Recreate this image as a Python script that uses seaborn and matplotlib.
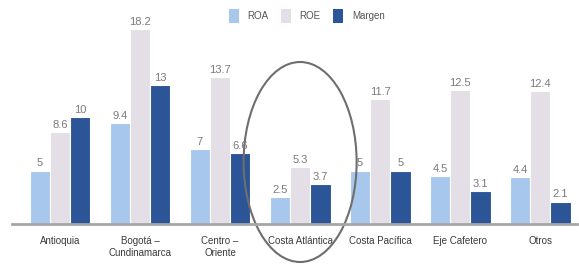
import matplotlib
matplotlib.use("Agg")
import matplotlib.pyplot as plt
import seaborn as sns
import pandas as pd
from matplotlib.patches import Ellipse, Patch

regions = ["Antioquia", "Bogotá –\nCundinamarca", "Centro –\nOriente", "Costa Atlántica",
           "Costa Pacífica", "Eje Cafetero", "Otros"]
series = ["ROA", "ROE", "Margen"]
roa = [5, 9.4, 7, 2.5, 5, 4.5, 4.4]
roe = [8.6, 18.2, 13.7, 5.3, 11.7, 12.5, 12.4]
margen = [10, 13, 6.6, 3.7, 5, 3.1, 2.1]
labels_roa = ["5", "9.4", "7", "2.5", "5", "4.5", "4.4"]
labels_roe = ["8.6", "18.2", "13.7", "5.3", "11.7", "12.5", "12.4"]
labels_mar = ["10", "13", "6.6", "3.7", "5", "3.1", "2.1"]

rows = []
for s, vals in zip(series, [roa, roe, margen]):
    for r, v in zip(regions, vals):
        rows.append({"region": r, "serie": s, "valor": v})
df = pd.DataFrame(rows)

colors = ["#A7C7EC", "#E4DFE6", "#2B5597"]

sns.set_style("white")
plt.rcParams['font.family'] = ['Liberation Sans', 'DejaVu Sans']

fig = plt.figure(figsize=(5.79, 2.64), dpi=100)
ax = fig.add_axes([12/579, 40/264, 565/579, 1 - 40/264 - 20.7/264])

sns.barplot(data=df, x="region", y="valor", hue="serie", palette=colors,
            saturation=1, width=0.76, edgecolor="white", linewidth=0.8, ax=ax, legend=False)

for cont, labs in zip(ax.containers, [labels_roa, labels_roe, labels_mar]):
    ax.bar_label(cont, labels=labs, padding=1.5, fontsize=8, color="#7A7A7A")

ax.set_ylim(0, 19)
ax.set_xlim(-0.6, 6.46)
ax.set_xlabel("")
ax.set_ylabel("")
ax.set_yticks([])
for sp in ["top", "right", "left"]:
    ax.spines[sp].set_visible(False)
ax.spines["bottom"].set_color("#A6A6A6")
ax.spines["bottom"].set_linewidth(2)
ax.tick_params(axis="x", length=0, pad=9, labelsize=7, labelcolor="#3A3A3A")

# ellipse around Costa Atlántica
ell = Ellipse((3.0, (224 - 162) / 10.7), width=113 / 80, height=200 / 10.7,
              fill=False, edgecolor="#6E6E6E", linewidth=1.5, clip_on=False)
ax.add_patch(ell)

handles = [Patch(facecolor=c, edgecolor="none") for c in colors]
fig.legend(handles, series, loc="upper center", bbox_to_anchor=(0.53, 1.0), ncol=3,
           frameon=False, fontsize=7, handlelength=1.0, handleheight=1.8,
           columnspacing=1.3, handletextpad=0.9, labelcolor="#555555")

fig.savefig("out.png", dpi=100)
